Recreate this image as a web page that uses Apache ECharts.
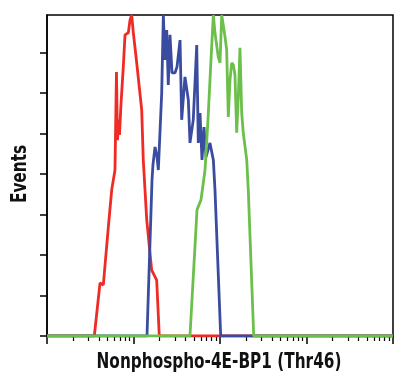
<!DOCTYPE html>
<html>
<head>
<meta charset="utf-8">
<script src="https://cdn.jsdelivr.net/npm/echarts@6/dist/echarts.min.js"></script>
<style>html,body{margin:0;padding:0;background:#fff;}#chart{width:401px;height:381px;}</style>
</head>
<body>
<div id="chart"></div>
<script>
// x values are log10(intensity) in decades; y values are relative event counts
var redX  = [0, 0.547, 0.613, 0.651, 0.709, 0.748, 0.786, 0.803, 0.815, 0.827, 0.838, 0.855, 0.882, 0.902, 0.940, 0.960, 0.979, 0.998, 1.037, 1.095, 1.113, 1.133, 1.153, 1.210, 1.268, 1.298, 4];
var redY  = [0, 0, 1.31, 1.26, 2.69, 3.61, 4.10, 6.52, 4.84, 5.34, 4.97, 5.71, 6.65, 7.44, 7.49, 7.81, 7.93, 7.49, 6.75, 5.58, 4.35, 3.61, 2.87, 1.63, 1.38, 0, 0];

var blueX = [0, 1.156, 1.214, 1.225, 1.249, 1.272, 1.287, 1.326, 1.345, 1.364, 1.384, 1.402, 1.422, 1.445, 1.480, 1.503, 1.538, 1.557, 1.595, 1.634, 1.653, 1.691, 1.731, 1.749, 1.769, 1.792, 1.815, 1.838, 1.884, 1.923, 1.942, 2.008, 4];
var blueY = [0, 0, 3.85, 4.23, 4.67, 4.42, 4.10, 6.00, 7.93, 6.82, 7.56, 6.20, 7.44, 6.50, 6.50, 6.65, 7.31, 5.34, 6.40, 5.83, 4.77, 5.34, 7.19, 4.77, 5.51, 4.35, 5.16, 4.42, 4.77, 4.35, 3.61, 0, 0];

var greenX = [0, 1.653, 1.734, 1.757, 1.780, 1.827, 1.861, 1.896, 1.923, 1.942, 1.980, 2.000, 2.020, 2.038, 2.058, 2.077, 2.096, 2.116, 2.135, 2.154, 2.173, 2.193, 2.212, 2.231, 2.251, 2.269, 2.309, 2.327, 2.390, 4];
var greenY = [0, 0, 3.11, 3.24, 3.36, 4.10, 5.34, 6.82, 7.93, 7.49, 6.89, 6.75, 7.93, 7.93, 7.39, 7.07, 5.41, 6.33, 6.75, 6.70, 6.45, 5.02, 5.91, 7.12, 5.51, 5.02, 4.35, 3.61, 0, 0];

var majorTicks = [0, 1, 2, 3, 4];
var minorTickMultipliers = [2, 3, 4, 5, 6, 7, 8, 9];
var yTicks = [0, 1, 2, 3, 4, 5, 6, 7];
var xTitle = 'Nonphospho-4E-BP1 (Thr46)';
var yTitle = 'Events';

function zip(xs, ys) { return xs.map(function (x, i) { return [x, ys[i]]; }); }
var minorTicks = [];
for (var d = 0; d < 4; d++) {
  minorTickMultipliers.forEach(function (m) { minorTicks.push(d + Math.log10(m)); });
}

var FONT = "bold 21px 'DejaVu Sans Condensed', 'DejaVu Sans', sans-serif";
var chart = echarts.init(document.getElementById('chart'), null, {renderer: 'canvas'});
chart.setOption({
  animation: false,
  backgroundColor: '#fff',
  grid: {left: 47, top: 15, right: 8, bottom: 45, outerBoundsMode: 'none', containLabel: false,
         show: true, borderColor: '#000', borderWidth: 1.5, backgroundColor: 'transparent'},
  graphic: [
    {type: 'text', x: 219, y: 363, scaleX: 0.81, silent: true,
     style: {text: xTitle, font: FONT, fill: '#111', align: 'center', verticalAlign: 'middle'}},
    {type: 'text', x: 21, y: 174, rotation: Math.PI / 2, scaleX: 0.81, silent: true,
     style: {text: yTitle, font: FONT, fill: '#111', align: 'center', verticalAlign: 'middle'}}
  ],
  xAxis: [{
    type: 'value', min: 0, max: 4,
    axisLine: {show: true, lineStyle: {color: '#000', width: 1.5}},
    axisTick: {show: true, customValues: majorTicks, length: 8, inside: false, lineStyle: {color: '#000', width: 1.5}},
    axisLabel: {show: false},
    splitLine: {show: false}
  }, {
    type: 'value', min: 0, max: 4, position: 'bottom',
    axisLine: {show: false},
    axisTick: {show: true, customValues: minorTicks, length: 5, lineStyle: {color: '#000', width: 1.2}},
    axisLabel: {show: false},
    splitLine: {show: false}
  }],
  yAxis: {
    type: 'value', min: 0, max: 7.93,
    axisLine: {show: true, lineStyle: {color: '#000', width: 1.5}},
    axisTick: {show: true, customValues: yTicks, length: 7, lineStyle: {color: '#000', width: 1.5}},
    axisLabel: {show: false},
    splitLine: {show: false}
  },
  series: [
    {type: 'line', data: zip(redX, redY), symbol: 'none', lineStyle: {color: '#ee2b24', width: 2.8}, z: 3},
    {type: 'line', data: zip(blueX, blueY), symbol: 'none', lineStyle: {color: '#3a4ca0', width: 2.8}, z: 4},
    {type: 'line', data: zip(greenX, greenY), symbol: 'none', lineStyle: {color: '#6cbf4a', width: 2.8}, z: 5}
  ]
});
</script>
</body>
</html>
